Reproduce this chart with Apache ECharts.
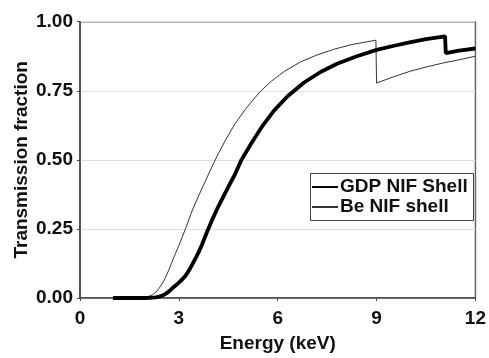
<!DOCTYPE html>
<html>
<head>
<meta charset="utf-8">
<script src="https://cdn.jsdelivr.net/npm/echarts@6/dist/echarts.min.js"></script>
<style>
html,body{margin:0;padding:0;background:#fff;}
#chart{width:489px;height:358px;}
</style>
</head>
<body>
<div id="chart"></div>
<script>
// Energy (keV) / transmission fraction pairs
const gdpEnergy = [1.0, 2.0, 2.3, 2.4, 2.5, 2.6, 2.7, 2.8, 2.9, 3.0, 3.1, 3.2, 3.3, 3.4, 3.5, 3.6, 3.7, 3.85, 4.0, 4.2, 4.47, 4.7, 4.9, 5.2, 5.55, 5.9, 6.3, 6.8, 7.3, 7.8, 8.4, 9.0, 9.5, 10.0, 10.5, 11.08, 11.1, 11.5, 12.0];
const gdpTrans  = [0, 0, 0.002, 0.005, 0.009, 0.015, 0.024, 0.035, 0.045, 0.056, 0.067, 0.08, 0.098, 0.12, 0.142, 0.166, 0.193, 0.238, 0.28, 0.332, 0.395, 0.447, 0.5, 0.56, 0.625, 0.68, 0.73, 0.78, 0.818, 0.848, 0.875, 0.898, 0.912, 0.925, 0.937, 0.947, 0.886, 0.895, 0.903];

const beEnergy = [1.0, 1.5, 1.8, 2.0, 2.1, 2.2, 2.3, 2.4, 2.5, 2.6, 2.7, 2.8, 2.9, 3.0, 3.2, 3.4, 3.6, 3.8, 4.0, 4.2, 4.4, 4.7, 5.0, 5.45, 5.8, 6.2, 6.7, 7.2, 7.7, 8.2, 8.6, 8.98, 9.0, 9.5, 10.0, 10.5, 11.0, 11.5, 12.0];
const beTrans  = [0, 0, 0.001, 0.003, 0.006, 0.012, 0.021, 0.035, 0.053, 0.075, 0.103, 0.133, 0.162, 0.19, 0.25, 0.315, 0.37, 0.422, 0.474, 0.523, 0.568, 0.63, 0.68, 0.745, 0.784, 0.82, 0.855, 0.88, 0.9, 0.916, 0.925, 0.933, 0.778, 0.8, 0.82, 0.836, 0.85, 0.862, 0.875];

const seriesNames = ['GDP NIF Shell', 'Be NIF shell'];
const xTicks = [0, 3, 6, 9, 12];
const yTicks = [0, 0.25, 0.5, 0.75, 1.0];

const FONT = '"Liberation Sans", Arial, Helvetica, sans-serif';
const FS = 19;

function pairs(xs, ys) { return xs.map((x, i) => [x, ys[i]]); }

const chart = echarts.init(document.getElementById('chart'), null, {renderer: 'canvas'});
chart.setOption({
  animation: false,
  backgroundColor: '#fff',
  textStyle: {fontFamily: FONT},
  grid: {left: 80, right: 10.5, top: 21.7, bottom: 58, show: true, borderColor: '#666', borderWidth: 1.5, backgroundColor: 'transparent'},
  xAxis: {
    type: 'value', min: xTicks[0], max: xTicks[xTicks.length - 1], interval: 3,
    name: 'Energy (keV)', nameLocation: 'middle', nameGap: 36, nameMoveOverlap: false,
    nameTextStyle: {fontFamily: FONT, fontWeight: 'bold', fontSize: FS, color: '#111'},
    axisLine: {show: true, lineStyle: {color: '#444', width: 1.5}},
    axisTick: {show: true, length: 3, lineStyle: {color: '#444'}},
    axisLabel: {fontFamily: FONT, fontWeight: 'bold', fontSize: FS, color: '#111', margin: 11},
    splitLine: {show: false}
  },
  yAxis: {
    type: 'value', min: yTicks[0], max: yTicks[yTicks.length - 1], interval: 0.25,
    name: 'Transmission fraction', nameLocation: 'middle', nameGap: 49, nameMoveOverlap: false,
    nameTextStyle: {fontFamily: FONT, fontWeight: 'bold', fontSize: FS, color: '#111'},
    axisLine: {show: true, lineStyle: {color: '#444', width: 1.5}},
    axisTick: {show: true, length: 3, lineStyle: {color: '#444'}},
    axisLabel: {fontFamily: FONT, fontWeight: 'bold', fontSize: FS, color: '#111', margin: 7,
      formatter: v => v.toFixed(2)},
    splitLine: {show: true, lineStyle: {color: '#ddd', width: 1}}
  },
  legend: {
    show: true, orient: 'vertical', left: 311, top: 177,
    padding: 0, itemGap: 0, itemWidth: 26, itemHeight: 20,
    data: seriesNames,
    itemStyle: {color: 'rgba(0,0,0,0)', borderColor: 'rgba(0,0,0,0)', borderWidth: 0},
    textStyle: {fontFamily: FONT, fontWeight: 'bold', fontSize: FS, color: '#111', lineHeight: 20, padding: [0, 0, 0, -3]}
  },
  graphic: [{
    type: 'rect', left: 310, top: 173, z: 4,
    shape: {width: 163, height: 47},
    style: {fill: '#fff', stroke: '#444', lineWidth: 1}
  }],
  series: [
    {name: seriesNames[0], type: 'line', data: pairs(gdpEnergy, gdpTrans), symbol: 'none', smooth: false,
     lineStyle: {color: '#000', width: 3.8}, itemStyle: {color: '#000'}, z: 3},
    {name: seriesNames[1], type: 'line', data: pairs(beEnergy, beTrans), symbol: 'none', smooth: false,
     lineStyle: {color: '#333', width: 1}, itemStyle: {color: '#333'}, z: 2}
  ]
});
</script>
</body>
</html>
